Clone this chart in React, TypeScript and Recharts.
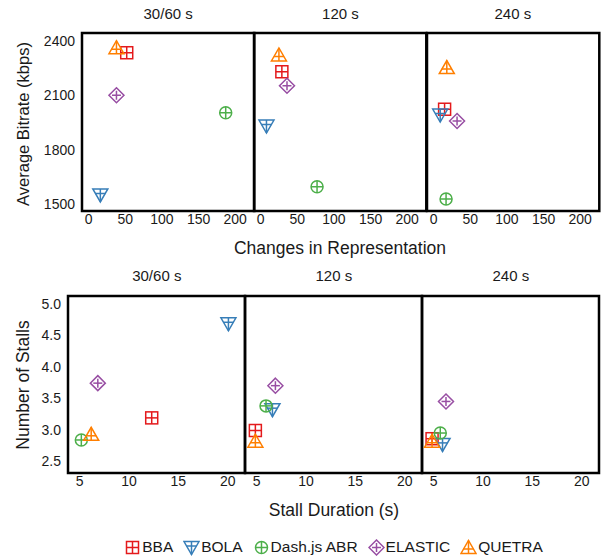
import React from 'react'
import { ScatterChart, Scatter, XAxis, YAxis, ReferenceArea } from 'recharts'

// algorithms, colours and panel titles
const ALGOS = ['BBA', 'BOLA', 'Dash.js ABR', 'ELASTIC', 'QUETRA']
const COLORS = ['#E41A1C', '#377EB8', '#4DAF4A', '#984EA3', '#FF7F00']
const PANELS = ['30/60 s', '120 s', '240 s']

// top row: changes in representation vs average bitrate (per panel)
const changesBBA = [52, 29, 15]
const bitrateBBA = [2335, 2230, 2023]
const changesBOLA = [16, 8, 9]
const bitrateBOLA = [1550, 1930, 1991]
const changesDash = [187, 77, 17]
const bitrateDash = [2004, 1595, 1527]
const changesElastic = [38, 36, 32]
const bitrateElastic = [2100, 2153, 1958]
const changesQuetra = [38, 25, 18]
const bitrateQuetra = [2363, 2323, 2253]

// bottom row: stall duration vs number of stalls (per panel)
const stallDurBBA = [12.3, 4.87, 4.84]
const stallsBBA = [3.19, 2.99, 2.86]
const stallDurBOLA = [20.07, 6.6, 5.9]
const stallsBOLA = [4.68, 3.32, 2.77]
const stallDurDash = [5.17, 5.95, 5.67]
const stallsDash = [2.84, 3.38, 2.95]
const stallDurElastic = [6.84, 6.9, 6.25]
const stallsElastic = [3.74, 3.70, 3.45]
const stallDurQuetra = [6.17, 4.87, 4.84]
const stallsQuetra = [2.93, 2.82, 2.82]

const topXTicks = [0, 50, 100, 150, 200]
const topYTicks = [1500, 1800, 2100, 2400]
const botXTicks = [5, 10, 15, 20]
const botYTicks = [2.5, 3.0, 3.5, 4.0, 4.5, 5.0]

const topX = [changesBBA, changesBOLA, changesDash, changesElastic, changesQuetra]
const topY = [bitrateBBA, bitrateBOLA, bitrateDash, bitrateElastic, bitrateQuetra]
const botX = [stallDurBBA, stallDurBOLA, stallDurDash, stallDurElastic, stallDurQuetra]
const botY = [stallsBBA, stallsBOLA, stallsDash, stallsElastic, stallsQuetra]

const FONT = '"Liberation Sans", Arial, sans-serif'
const INK = '#1a1a1a'

function Marker({ idx, cx, cy }: { idx: number; cx: number; cy: number }) {
  const c = COLORS[idx]
  const p = { stroke: c, strokeWidth: 1.5, fill: 'none' }
  if (idx === 0) {
    return (
      <g {...p}>
        <rect x={cx - 6} y={cy - 6} width={12} height={12} />
        <line x1={cx - 6} y1={cy} x2={cx + 6} y2={cy} />
        <line x1={cx} y1={cy - 6} x2={cx} y2={cy + 6} />
      </g>
    )
  }
  if (idx === 1) {
    return (
      <g {...p}>
        <polygon points={`${cx - 7.5},${cy - 6} ${cx + 7.5},${cy - 6} ${cx},${cy + 7}`} />
        <line x1={cx - 5} y1={cy - 1.5} x2={cx + 5} y2={cy - 1.5} />
        <line x1={cx} y1={cy - 6} x2={cx} y2={cy + 7} />
      </g>
    )
  }
  if (idx === 2) {
    return (
      <g {...p}>
        <circle cx={cx} cy={cy} r={6} />
        <line x1={cx - 6} y1={cy} x2={cx + 6} y2={cy} />
        <line x1={cx} y1={cy - 6} x2={cx} y2={cy + 6} />
      </g>
    )
  }
  if (idx === 3) {
    return (
      <g {...p}>
        <polygon points={`${cx},${cy - 7.5} ${cx + 7.5},${cy} ${cx},${cy + 7.5} ${cx - 7.5},${cy}`} />
        <line x1={cx - 4.5} y1={cy} x2={cx + 4.5} y2={cy} />
        <line x1={cx} y1={cy - 4.5} x2={cx} y2={cy + 4.5} />
      </g>
    )
  }
  return (
    <g {...p}>
      <polygon points={`${cx - 7.5},${cy + 6} ${cx + 7.5},${cy + 6} ${cx},${cy - 7}`} />
      <line x1={cx - 5} y1={cy + 1.5} x2={cx + 5} y2={cy + 1.5} />
      <line x1={cx} y1={cy - 7} x2={cx} y2={cy + 6} />
    </g>
  )
}

interface PanelProps {
  p: number
  left: number
  top: number
  plotW: number
  plotH: number
  showY: boolean
  xDomain: [number, number]
  yDomain: [number, number]
  xTicks: number[]
  yTicks: number[]
  xs: number[][]
  ys: number[][]
  yFmt?: (v: number) => string
}

const Y_W = 46

function Panel({ p, left, top, plotW, plotH, showY, xDomain, yDomain, xTicks, yTicks, xs, ys, yFmt }: PanelProps) {
  const yw = showY ? Y_W : 0
  const width = 2 + yw + plotW + 2
  const height = 2 + plotH + 26
  const tick = { fontSize: 14, fill: INK, fontFamily: FONT }
  return (
    <div style={{ position: 'absolute', left: left - 2 - yw, top: top - 2 }}>
      <ScatterChart width={width} height={height} margin={{ top: 2, right: 2, bottom: 0, left: 2 }}>
        <XAxis
          type="number" dataKey="x" domain={xDomain} ticks={xTicks} allowDataOverflow
          height={26} axisLine={false} tickLine={false} tickSize={1} tickMargin={2}
          tick={tick} interval={0}
        />
        <YAxis
          type="number" dataKey="y" domain={yDomain} ticks={yTicks} allowDataOverflow
          hide={!showY} width={Y_W} axisLine={false} tickLine={false} tickSize={6} tickMargin={1}
          tick={tick} interval={0} tickFormatter={yFmt}
        />
        <ReferenceArea
          x1={xDomain[0]} x2={xDomain[1]} y1={yDomain[0]} y2={yDomain[1]}
          fill="none" stroke="#000" strokeWidth={2.5} fillOpacity={0} ifOverflow="visible"
        />
        {ALGOS.map((name, i) => (
          <Scatter
            key={name}
            name={name}
            data={[{ x: xs[i][p], y: ys[i][p] }]}
            isAnimationActive={false}
            shape={(s: any) => <Marker idx={i} cx={s.cx} cy={s.cy} />}
          />
        ))}
      </ScatterChart>
    </div>
  )
}

const abs = (left: number, top: number, extra: React.CSSProperties = {}): React.CSSProperties => ({
  position: 'absolute', left, top, transform: 'translate(-50%, -50%)', whiteSpace: 'nowrap',
  fontFamily: FONT, color: INK, ...extra,
})

export default function App() {
  const topLefts = [82, 254.3, 426.7]
  const topW = 172.3
  const botLefts = [68.3, 245.3, 422.3]
  const botW = 177
  return (
    <div style={{ position: 'absolute', left: 0, top: 0, width: 613, height: 560, background: '#fff', fontFamily: FONT }}>
      {PANELS.map((t, p) => (
        <div key={'tt' + p} style={abs(topLefts[p] + topW / 2, 13, { fontSize: 15 })}>{t}</div>
      ))}
      {PANELS.map((t, p) => (
        <Panel
          key={'top' + p} p={p} left={topLefts[p]} top={33} plotW={topW} plotH={178} showY={p === 0}
          xDomain={[-9, 226]} yDomain={[1461, 2444]} xTicks={topXTicks} yTicks={topYTicks}
          xs={topX} ys={topY}
        />
      ))}
      <div style={abs(340, 248, { fontSize: 17.5 })}>Changes in Representation</div>
      <div style={abs(23, 124, { fontSize: 16.5, transform: 'translate(-50%, -50%) rotate(-90deg)' })}>
        Average Bitrate (kbps)
      </div>

      {PANELS.map((t, p) => (
        <div key={'bt' + p} style={abs(botLefts[p] + botW / 2, 275, { fontSize: 15 })}>{t}</div>
      ))}
      {PANELS.map((t, p) => (
        <Panel
          key={'bot' + p} p={p} left={botLefts[p]} top={296} plotW={botW} plotH={177} showY={p === 0}
          xDomain={[3.82, 21.75]} yDomain={[2.317, 5.12]} xTicks={botXTicks} yTicks={botYTicks}
          xs={botX} ys={botY} yFmt={(v: number) => v.toFixed(1)}
        />
      ))}
      <div style={abs(334, 510, { fontSize: 17.5 })}>Stall Duration (s)</div>
      <div style={abs(23, 385, { fontSize: 17.5, transform: 'translate(-50%, -50%) rotate(-90deg)' })}>
        Number of Stalls
      </div>

      <div style={{
        position: 'absolute', left: 68, width: 531, top: 537, height: 20,
        display: 'flex', justifyContent: 'center', alignItems: 'center', gap: 10,
        fontSize: 15.5, color: INK, fontFamily: FONT,
      }}>
        {ALGOS.map((name, i) => (
          <div key={name} style={{ display: 'flex', alignItems: 'center' }}>
            <svg width={17} height={17} style={{ marginRight: 1 }}>
              <Marker idx={i} cx={8.5} cy={8.5} />
            </svg>
            <span>{name}</span>
          </div>
        ))}
      </div>
    </div>
  )
}
